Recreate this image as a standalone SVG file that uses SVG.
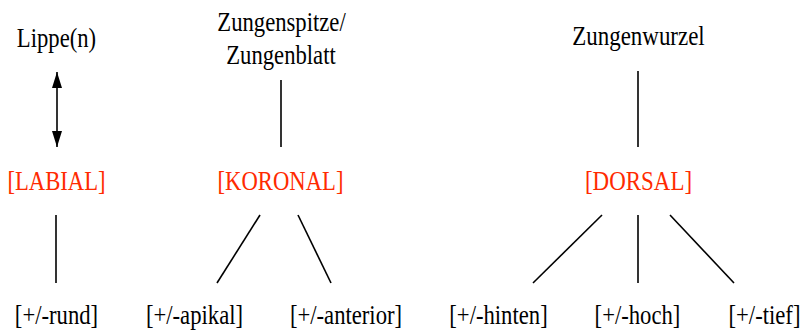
<svg xmlns="http://www.w3.org/2000/svg" width="802" height="331" viewBox="0 0 802 331">
<style>
.k{fill:#000}
.r{fill:#ff2a00}
.c line{stroke:#000;stroke-width:1.6}
</style>
<defs>
<marker id="ah" viewBox="0 0 16 10" refX="16" refY="5" markerWidth="16" markerHeight="10" markerUnits="userSpaceOnUse" orient="auto-start-reverse">
<path d="M0,0 L16,5 L0,10 Z" fill="#000"/>
</marker>
</defs>
<rect width="802" height="331" fill="#fff"/>
<g class="c" id="connectors">
<line x1="57" y1="72" x2="57" y2="147" marker-start="url(#ah)" marker-end="url(#ah)"/>
<line x1="56" y1="215" x2="56" y2="283"/>
<line x1="281" y1="80" x2="281" y2="147"/>
<line x1="260" y1="215" x2="217" y2="283"/>
<line x1="298" y1="215" x2="331" y2="283"/>
<line x1="638" y1="71" x2="638" y2="147"/>
<line x1="602" y1="215" x2="533" y2="283"/>
<line x1="638" y1="215" x2="638" y2="283"/>
<line x1="670" y1="215" x2="734" y2="283"/>
</g>
<g id="lippe"><text class="k" font-family="Liberation Serif" font-size="27" text-anchor="middle" transform="translate(56.5,47) scale(0.84,1)">Lippe(n)</text></g>
<g id="zunge"><text class="k" font-family="Liberation Serif" font-size="27" text-anchor="middle" transform="translate(281.5,31) scale(0.84,1)">Zungenspitze/</text><text class="k" font-family="Liberation Serif" font-size="27" text-anchor="middle" transform="translate(281,64) scale(0.84,1)">Zungenblatt</text></g>
<g id="wurzel"><text class="k" font-family="Liberation Serif" font-size="27" text-anchor="middle" transform="translate(638.5,45) scale(0.85,1)">Zungenwurzel</text></g>
<g id="labial"><text class="r" font-family="Liberation Serif" font-size="27" text-anchor="middle" transform="translate(56.5,190) scale(0.84,1)">[LABIAL]</text></g>
<g id="koronal"><text class="r" font-family="Liberation Serif" font-size="27" text-anchor="middle" transform="translate(280.5,190) scale(0.84,1)">[KORONAL]</text></g>
<g id="dorsal"><text class="r" font-family="Liberation Serif" font-size="27" text-anchor="middle" transform="translate(638.5,190) scale(0.85,1)">[DORSAL]</text></g>
<g id="rund"><text class="k" font-family="Liberation Serif" font-size="27" text-anchor="middle" transform="translate(56.5,324) scale(0.84,1)">[+/-rund]</text></g>
<g id="apikal"><text class="k" font-family="Liberation Serif" font-size="27" text-anchor="middle" transform="translate(194.5,324) scale(0.84,1)">[+/-apikal]</text></g>
<g id="anterior"><text class="k" font-family="Liberation Serif" font-size="27" text-anchor="middle" transform="translate(346,324) scale(0.84,1)">[+/-anterior]</text></g>
<g id="hinten"><text class="k" font-family="Liberation Serif" font-size="27" text-anchor="middle" transform="translate(498.5,324) scale(0.84,1)">[+/-hinten]</text></g>
<g id="hoch"><text class="k" font-family="Liberation Serif" font-size="27" text-anchor="middle" transform="translate(637.5,324) scale(0.84,1)">[+/-hoch]</text></g>
<g id="tief"><text class="k" font-family="Liberation Serif" font-size="27" text-anchor="middle" transform="translate(764.5,324) scale(0.84,1)">[+/-tief]</text></g>
</svg>
